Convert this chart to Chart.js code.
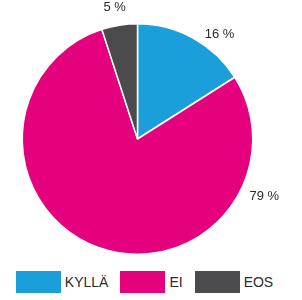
<!DOCTYPE html>
<html>
<head>
<meta charset="utf-8">
<script src="https://cdn.jsdelivr.net/npm/chart.js@4"></script>
<style>
  html, body { margin: 0; padding: 0; background: #fff; }
  #wrap { position: relative; width: 302px; height: 300px; }
  #chartBox { position: absolute; left: 0; top: 0; width: 302px; height: 262px; }
  #legend {
    position: absolute; left: 0; top: 271px; width: 302px; height: 22px;
    display: flex; justify-content: center; align-items: center;
    box-sizing: border-box; padding-right: 13px;
    font-family: "Liberation Sans", Arial, sans-serif; font-size: 14px; color: #2b2b2b;
  }
  .item { display: flex; align-items: center; margin: 0 6px; }
  .box { width: 45px; height: 22px; margin-right: 4px; }
</style>
</head>
<body>
<div id="wrap">
  <div id="chartBox"><canvas id="pie"></canvas></div>
  <div id="legend"></div>
</div>
<script>
// Data
const categories = ['KYLLÄ', 'EI', 'EOS'];
const shares = [16, 79, 5];
const colors = ['#1a9fdb', '#e5007e', '#4b4a4d'];
// where inside each slice the % label sits (0 = slice start, 1 = slice end)
const labelFrac = [0.66, 0.2, 0.45];

// Percent labels outside the pie
const pctLabels = {
    id: 'pctLabels',
    afterDatasetsDraw(chart) {
        const ctx = chart.ctx;
        const meta = chart.getDatasetMeta(0);
        ctx.save();
        ctx.font = '13px "Liberation Sans", Arial, sans-serif';
        ctx.fillStyle = '#2b2b2b';
        ctx.textAlign = 'center';
        ctx.textBaseline = 'middle';
        meta.data.forEach((arc, i) => {
            const p = arc.getProps(['x', 'y', 'startAngle', 'endAngle', 'outerRadius'], true);
            const a = p.startAngle + (p.endAngle - p.startAngle) * labelFrac[i];
            const r = p.outerRadius + (i === 1 ? 24 : 18);
            ctx.fillText(shares[i] + ' %', p.x + Math.cos(a) * r, p.y + Math.sin(a) * r);
        });
        ctx.restore();
    }
};

new Chart(document.getElementById('pie'), {
    type: 'pie',
    data: {
        labels: categories,
        datasets: [{
            data: shares,
            backgroundColor: colors,
            borderColor: '#fff',
            borderWidth: 1.5
        }]
    },
    options: {
        responsive: true,
        maintainAspectRatio: false,
        animation: false,
        layout: { padding: { top: 23, bottom: 7, left: 0, right: 27 } },
        plugins: {
            legend: { display: false },
            tooltip: { enabled: false }
        }
    },
    plugins: [pctLabels]
});

// HTML legend
const legend = document.getElementById('legend');
categories.forEach((name, i) => {
    const item = document.createElement('div');
    item.className = 'item';
    item.innerHTML = '<div class="box" style="background:' + colors[i] + '"></div><span>' + name + '</span>';
    legend.appendChild(item);
});
</script>
</body>
</html>
